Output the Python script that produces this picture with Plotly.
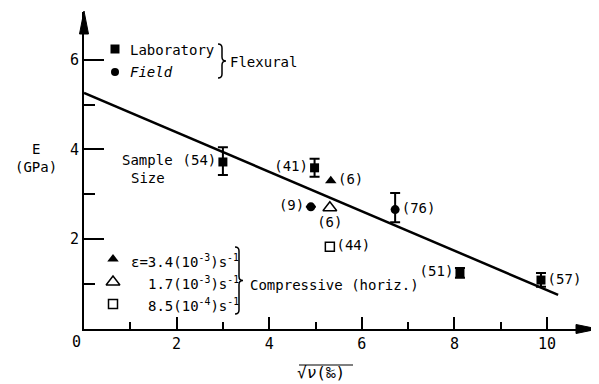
import plotly.graph_objects as go

# ---------------- data ----------------
lab_x = [3.0, 4.98, 8.12, 9.87]
lab_y = [3.72, 3.59, 1.25, 1.09]
lab_err_plus = [0.33, 0.20, 0.11, 0.16]
lab_err_minus = [0.29, 0.20, 0.11, 0.15]
lab_labels = ["(54)", "(41)", "(51)", "(57)"]
lab_textpos = ["middle left", "middle left", "middle left", "middle right"]

field_x = [4.90, 6.72]
field_y = [2.72, 2.66]
field_err_plus = [None, 0.37]
field_err_minus = [None, 0.28]
field_labels = ["(9)", "(76)"]
field_textpos = ["middle left", "middle right"]

comp_fast_x = [5.33]
comp_fast_y = [3.30]
comp_fast_labels = ["(6)"]
comp_mid_x = [5.31]
comp_mid_y = [2.70]
comp_mid_labels = ["(6)"]
comp_slow_x = [5.31]
comp_slow_y = [1.83]
comp_slow_labels = ["(44)"]

fit_x = [0.0, 10.24]
fit_y = [5.26, 0.76]

x_ticks = [2, 4, 6, 8, 10]
x_minor = [1, 3, 5, 7, 9]
y_ticks = [2, 4, 6]
y_minor = [1, 3, 5]

# ---------------- layout geometry ----------------
# The page body has an 8px margin, so the figure sits at (8, 8) in the window.
OFF = 8
W, H = 599 - OFF, 384 - OFF
X0S, Y0S = 84, 329          # screen position of the axes origin
XENDS, YTOPS = 598, 12      # screen position of the arrow tips
L = X0S - OFF
T = YTOPS - OFF
R = W - (XENDS - OFF)
B = H - (Y0S - OFF)
PW, PH = W - L - R, H - T - B
XPU, YPU = 46.3, 44.9
x_range = [0, PW / XPU]
y_range = [0, PH / YPU]

FONT = "DejaVu Sans Mono"
INK = "black"


def px(xs):  # screen x -> paper
    return (xs - X0S) / PW


def py(ys):  # screen y -> paper
    return (Y0S - ys) / PH


fig = go.Figure()

# regression line
fig.add_trace(go.Scatter(x=fit_x, y=fit_y, mode="lines",
                         line=dict(color=INK, width=2.5), hoverinfo="skip"))

err_style = dict(type="data", symmetric=False, color=INK, thickness=2, width=5)
tfont = dict(family=FONT, size=14, color=INK)

fig.add_trace(go.Scatter(
    x=lab_x, y=lab_y, mode="markers+text", text=lab_labels,
    textposition=lab_textpos, textfont=tfont,
    marker=dict(symbol="square", size=9, color=INK),
    error_y=dict(array=lab_err_plus, arrayminus=lab_err_minus, **err_style),
    cliponaxis=False))

fig.add_trace(go.Scatter(
    x=field_x, y=field_y, mode="markers+text", text=field_labels,
    textposition=field_textpos, textfont=tfont,
    marker=dict(symbol="circle", size=9, color=INK),
    error_y=dict(array=field_err_plus, arrayminus=field_err_minus, **err_style),
    cliponaxis=False))

fig.add_trace(go.Scatter(
    x=comp_fast_x, y=comp_fast_y, mode="markers+text", text=comp_fast_labels,
    textposition="middle right", textfont=tfont,
    marker=dict(symbol="triangle-up", size=10, color=INK), cliponaxis=False))

fig.add_trace(go.Scatter(
    x=comp_mid_x, y=comp_mid_y, mode="markers+text", text=comp_mid_labels,
    textposition="bottom center", textfont=tfont,
    marker=dict(symbol="triangle-up-open", size=12, color=INK,
                line=dict(width=1.5, color=INK)), cliponaxis=False))

fig.add_trace(go.Scatter(
    x=comp_slow_x, y=comp_slow_y, mode="markers+text", text=comp_slow_labels,
    textposition="middle right", textfont=tfont,
    marker=dict(symbol="square-open", size=9, color=INK,
                line=dict(width=1.5, color=INK)), cliponaxis=False))

# ---------------- legend symbols ----------------
leg_syms = [
    ("square", 115, 49, 9), ("circle", 115, 72, 8),
    ("triangle-up", 113, 259, 10), ("triangle-up-open", 113, 282, 12),
    ("square-open", 113, 304, 9),
]
shapes = []
annos = []


def brace(x0, y0, y1, w, r=4):
    xm = x0 + w / 2
    x1 = x0 + w
    ym = (y0 + y1) / 2
    p = lambda a, b: f"{px(a):.5f},{py(b):.5f}"
    return ("M " + p(x0, y0) + " Q " + p(xm, y0) + " " + p(xm, y0 + r) +
            " L " + p(xm, ym - r) + " Q " + p(xm, ym) + " " + p(x1, ym) +
            " Q " + p(xm, ym) + " " + p(xm, ym + r) +
            " L " + p(xm, y1 - r) + " Q " + p(xm, y1) + " " + p(x0, y1))


for sym, xs, ys, sz in leg_syms:
    op = "open" in sym
    fig.add_trace(go.Scatter(
        x=[(xs - X0S) / XPU], y=[(Y0S - ys) / YPU], mode="markers",
        marker=dict(symbol=sym, size=sz, color=INK,
                    line=dict(width=1.5 if op else 0, color=INK)),
        cliponaxis=False, hoverinfo="skip"))

shapes.append(dict(type="path", xref="paper", yref="paper",
                   path=brace(218, 44, 78, 8), line=dict(color=INK, width=1.5)))
shapes.append(dict(type="path", xref="paper", yref="paper",
                   path=brace(235, 247, 314, 8), line=dict(color=INK, width=1.5)))

# arrowheads
shapes.append(dict(type="path", xref="paper", yref="paper",
                   path=f"M {px(84)},{py(11)} L {px(79.5)},{py(34)} L {px(88.5)},{py(34)} Z",
                   fillcolor=INK, line=dict(color=INK, width=1)))
shapes.append(dict(type="path", xref="paper", yref="paper",
                   path=f"M {px(598)},{py(329)} L {px(576)},{py(324.5)} L {px(576)},{py(333.5)} Z",
                   fillcolor=INK, line=dict(color=INK, width=1)))
# overline of the radical in the x title
shapes.append(dict(type="line", xref="paper", yref="paper",
                   x0=px(299), x1=px(353), y0=py(365), y1=py(365),
                   line=dict(color=INK, width=1.2)))


def note(text, xs, ys, size=14, anchor="center", italic=False):
    annos.append(dict(text=text, x=px(xs), y=py(ys), xref="paper", yref="paper",
                      showarrow=False, xanchor=anchor, yanchor="middle",
                      font=dict(family=FONT, size=size, color=INK,
                                style="italic" if italic else "normal")))


note("Laboratory", 128, 50, anchor="left")
note("Field", 128, 72, anchor="left", italic=True)
note("Flexural", 228, 62, anchor="left")
note("ε=3.4(10<sup>-3</sup>)s<sup>-1</sup>", 241, 261, anchor="right")
note("1.7(10<sup>-3</sup>)s<sup>-1</sup>", 241, 283, anchor="right")
note("8.5(10<sup>-4</sup>)s<sup>-1</sup>", 241, 305, anchor="right")
note("Compressive (horiz.)", 248, 285, anchor="left")
note("Sample", 147, 160)
note("Size", 148, 178)
note("E", 36, 149)
note("(GPa)", 36, 167)
note("0", 76, 342, size=15)
note("√<i>ν</i>(‰)", 321, 372, size=16)

fig.update_layout(
    width=W, height=H, margin=dict(l=L, r=R, t=T, b=B),
    paper_bgcolor="white", plot_bgcolor="white", showlegend=False,
    shapes=shapes, annotations=annos,
    xaxis=dict(range=x_range, showgrid=False, zeroline=False, showline=True,
               linecolor=INK, linewidth=2, ticks="inside", ticklen=12,
               tickwidth=1.5, tickcolor=INK, tickvals=x_ticks,
               ticktext=[str(v) for v in x_ticks], automargin=False,
               tickfont=dict(family=FONT, size=15, color=INK),
               minor=dict(tickvals=x_minor, ticks="inside", ticklen=7,
                          tickwidth=1.5, tickcolor=INK, showgrid=False)),
    yaxis=dict(range=y_range, showgrid=False, zeroline=False, showline=True,
               linecolor=INK, linewidth=2, ticks="inside", ticklen=20,
               tickwidth=1.5, tickcolor=INK, tickvals=y_ticks,
               ticktext=[str(v) for v in y_ticks], automargin=False,
               tickfont=dict(family=FONT, size=15, color=INK),
               minor=dict(tickvals=y_minor, ticks="inside", ticklen=11,
                          tickwidth=1.5, tickcolor=INK, showgrid=False)),
)

fig.write_html("out.html")
